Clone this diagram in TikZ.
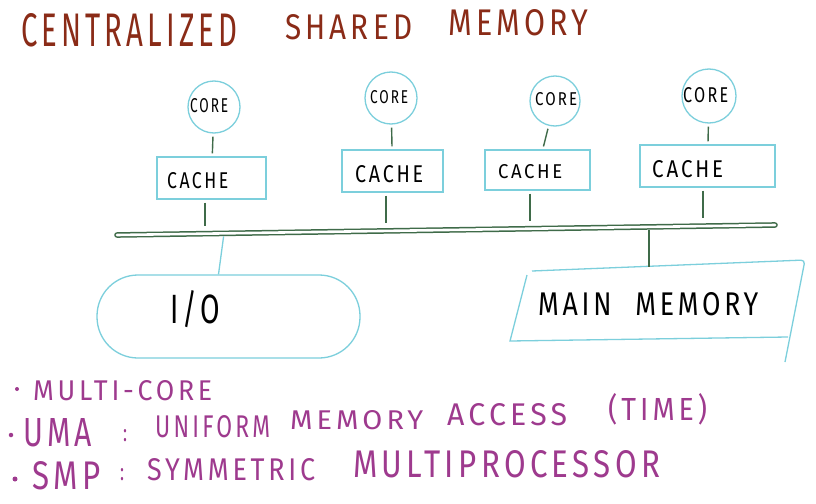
\documentclass[tikz,border=0pt]{standalone}
\usepackage{fontspec}
\setmainfont{Fira Sans}
\usepackage{graphicx}
\definecolor{titlered}{HTML}{8A2B17}
\definecolor{notecol}{HTML}{9E3A8E}
\definecolor{skyb}{HTML}{7CCFDC}
\definecolor{wireg}{HTML}{3F6B49}
\newcommand\hw[3]{\resizebox{#1pt}{#2pt}{\addfontfeatures{LetterSpace=14}#3}}
\begin{document}
\begin{tikzpicture}[x=1pt,y=-1pt,
  blueln/.style={draw=skyb, line width=1.3pt},
  corecirc/.style={circle, blueln, inner sep=0pt, minimum size=#1},
  cachebox/.style={rectangle, blueln, inner sep=0pt},
  iobox/.style={rectangle, blueln, rounded corners=41pt, inner sep=0pt, minimum width=263pt, minimum height=83pt},
  wire/.style={draw=wireg, line width=1.4pt, shorten <=3pt, shorten >=3pt},
  bus/.style={draw=wireg, double=white, line width=1.5pt, double distance=2.6pt, line cap=round},
  txt/.style={inner sep=0pt, anchor=base west},
  titletxt/.style={txt, text=titlered},
  notetxt/.style={txt, text=notecol},
  lbl/.style={txt, text=black},
  dotnode/.style={circle, fill=notecol, inner sep=0pt, minimum size=#1}]
\useasboundingbox (0,0) rectangle (816,503);
\fill[white] (0,0) rectangle (816,503);

% title
\node[titletxt] (t1) at (21,47) {\hw{216}{33}{CENTRALIZED}};
\node[titletxt] (t2) at (285,40) {\hw{127}{25}{SHARED}};
\node[titletxt] (t3) at (448,36) {\hw{140}{26}{MEMORY}};

% cores
\node[corecirc=52pt] (c1) at (214,107) {};
\node[corecirc=52pt] (c2) at (391,98) {};
\node[corecirc=50pt] (c3) at (555,101) {};
\node[corecirc=54pt] (c4) at (709,96) {};
\node[lbl] (c1t) at (190,112) {\hw{38}{14}{CORE}};
\node[lbl] (c2t) at (370,103) {\hw{38}{13}{CORE}};
\node[lbl] (c3t) at (535,105) {\hw{42}{13}{CORE}};
\node[lbl] (c4t) at (683,102) {\hw{45}{15}{CORE}};

% caches
\node[cachebox, minimum width=109pt, minimum height=42pt] (k1) at (211.5,178) {};
\node[cachebox, minimum width=101pt, minimum height=42pt] (k2) at (392.5,171) {};
\node[cachebox, minimum width=105pt, minimum height=40pt] (k3) at (537.5,170) {};
\node[cachebox, minimum width=135pt, minimum height=42pt] (k4) at (707.5,166) {};
\node[lbl] (k1t) at (167,188) {\hw{61}{16}{CACHE}};
\node[lbl] (k2t) at (355,182) {\hw{68}{17}{CACHE}};
\node[lbl] (k3t) at (498,178) {\hw{64}{14}{CACHE}};
\node[lbl] (k4t) at (652,177) {\hw{71}{17}{CACHE}};

% bus
\coordinate (busL) at (117,235);
\coordinate (busR) at (775,225);
\coordinate (b1) at (205,233.7);
\coordinate (b2) at (386,230.9);
\coordinate (b3) at (530,228.7);
\coordinate (b4) at (703,226.1);
\coordinate (bio) at (224,233.4);
\coordinate (bmm) at (649,226.9);
\draw[bus] (busL) -- (busR);

% core -> cache
\draw[wire] (c1) -- (k1);
\draw[wire] (c2) -- (k2);
\draw[wire] (c3) -- (k3);
\draw[wire] (c4) -- (k4);
% cache -> bus
\draw[wire, shorten >=8pt] (k1.south -| b1) -- (b1);
\draw[wire, shorten >=8pt] (k2.south -| b2) -- (b2);
\draw[wire, shorten >=8pt] (k3.south -| b3) -- (b3);
\draw[wire, shorten >=8pt] (k4.south -| b4) -- (b4);

% I/O
\node[iobox] (io) at (228.5,316.5) {};
\node[txt] (iot) at (170,323) {\hw{50}{33}{I/O}};
\draw[blueln, shorten <=3pt] (bio) -- ([xshift=-10pt]io.north);

% main memory
\coordinate (mmA) at (532,271);
\coordinate (mmB) at (805,260);
\coordinate (mmC) at (785,362);
\coordinate (mmD) at (510,341);
\coordinate (mmE) at (788,337);
\coordinate (mmF) at (527,275);
\coordinate (mmtop) at (649,267);
\draw[blueln, rounded corners=4pt] (mmA) -- (mmB) -- (mmC);
\draw[blueln] (mmF) -- (mmD) -- (mmE);
\node[lbl] (mmt) at (538,315) {\hw{220}{23}{MAIN\hspace{0.9em}MEMORY}};
\draw[wire, line width=1.8pt, shorten >=0pt] (bmm) -- (mmtop);

% notes
\node[dotnode=4pt] (d1) at (17,389) {};
\node[notetxt] (n1) at (33,400) {\hw{179}{20}{MULTI-CORE}};
\node[dotnode=4.5pt] (d2) at (11,435) {};
\node[notetxt] (n2a) at (23,446) {\hw{69}{28}{UMA}};
\node[notetxt] (n2b) at (123,441) {\hw{4}{12}{:}};
\node[notetxt] (n2c) at (155,437) {\hw{115}{22}{UNIFORM}};
\node[notetxt] (n2d) at (290,429) {\hw{133}{19}{MEMORY}};
\node[notetxt] (n2e) at (447,425) {\hw{120}{22}{ACCESS}};
\node[notetxt] (n2f) at (608,420) {\hw{99}{27}{(TIME)}};
\node[dotnode=5pt] (d3) at (15,479) {};
\node[notetxt] (n3a) at (32,489) {\hw{68}{28}{SMP}};
\node[notetxt] (n3b) at (120,480) {\hw{4}{12}{:}};
\node[notetxt] (n3c) at (147,480) {\hw{168}{22}{SYMMETRIC}};
\node[notetxt] (n3d) at (353,477) {\hw{307}{27}{MULTIPROCESSOR}};
\end{tikzpicture}
\end{document}
